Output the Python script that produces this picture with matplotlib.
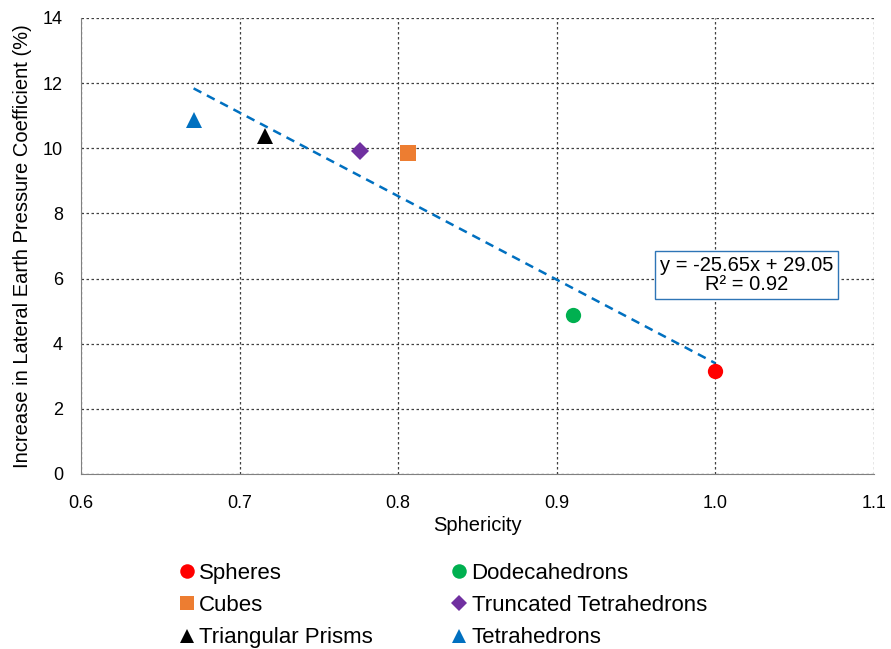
import matplotlib.pyplot as plt
from matplotlib.lines import Line2D

plt.rcParams['font.family'] = ['Liberation Sans', 'DejaVu Sans']

# donnees
shapes = ['Spheres', 'Dodecahedrons', 'Cubes', 'Truncated Tetrahedrons',
          'Triangular Prisms', 'Tetrahedrons']
sphericity = [1.0, 0.910, 0.806, 0.776, 0.716, 0.671]
increase = [3.15, 4.87, 9.87, 9.92, 10.38, 10.88]
colors = ['#FF0000', '#00B050', '#ED7D31', '#7030A0', '#000000', '#0070C0']
markers = ['o', 'o', 's', 'D', '^', '^']
sizes = [11, 11, 11, 9, 11, 11]

slope = -25.65
intercept = 29.05

fig = plt.figure(figsize=(8.91, 6.49), dpi=100)
ax = fig.add_axes([81 / 891, 1 - 474 / 649, 793 / 891, 456 / 649])

for s, x, y, c, m, ms in zip(shapes, sphericity, increase, colors, markers, sizes):
    ax.plot(x, y, linestyle='none', marker=m, color=c, markersize=ms,
            markeredgewidth=0, label=s, zorder=3)

# courbe de tendance
x_fit = [min(sphericity), max(sphericity)]
y_fit = [slope * v + intercept for v in x_fit]
ax.plot(x_fit, y_fit, linestyle=(0, (3.5, 2.5)), color='#0070C0', linewidth=1.8, zorder=2)

ax.text(1.0195, 6.1, 'y = -25.65x + 29.05\nR² = 0.92', ha='center', va='center',
        fontsize=14.5, linespacing=1.0,
        bbox=dict(boxstyle='square,pad=0.25', facecolor='white', edgecolor='#2E75B6', linewidth=1),
        zorder=4)

ax.set_xlim(0.6, 1.1)
ax.set_ylim(0, 14)
ax.set_xticks([0.6, 0.7, 0.8, 0.9, 1.0, 1.1])
ax.set_xticklabels(['0.6', '0.7', '0.8', '0.9', '1.0', '1.1'])
ax.set_yticks(range(0, 15, 2))
ax.tick_params(labelsize=13, length=0)
ax.tick_params(axis='x', pad=15)
ax.tick_params(axis='y', pad=13)
ax.grid(True, linestyle=(0, (2, 2)), color='#404040', linewidth=0.9)
ax.set_axisbelow(True)
for sp in ['top', 'right']:
    ax.spines[sp].set_visible(False)
for sp in ['left', 'bottom']:
    ax.spines[sp].set_color('#808080')

ax.set_xlabel('Sphericity', fontsize=14.5, labelpad=3)
ax.set_ylabel('Increase in Lateral Earth Pressure Coefficient (%)', fontsize=14.5, labelpad=8)

# legende: ordre Spheres, Dodecahedrons / Cubes, Truncated / Prisms, Tetrahedrons
handles = [Line2D([], [], linestyle='none', marker=m, color=c, markersize=ms * 0.95,
                  markeredgewidth=0) for c, m, ms in zip(colors, markers, sizes)]
order = [0, 2, 4, 1, 3, 5]
fig.legend([handles[i] for i in order], [shapes[i] for i in order],
           loc='upper left', bbox_to_anchor=(170 / 891, 1 - 552 / 649), ncol=2,
           frameon=False, fontsize=16, handlelength=0.5, handletextpad=0.3,
           columnspacing=3.65, labelspacing=0.5, borderpad=0)

fig.savefig('out.png', dpi=100)
